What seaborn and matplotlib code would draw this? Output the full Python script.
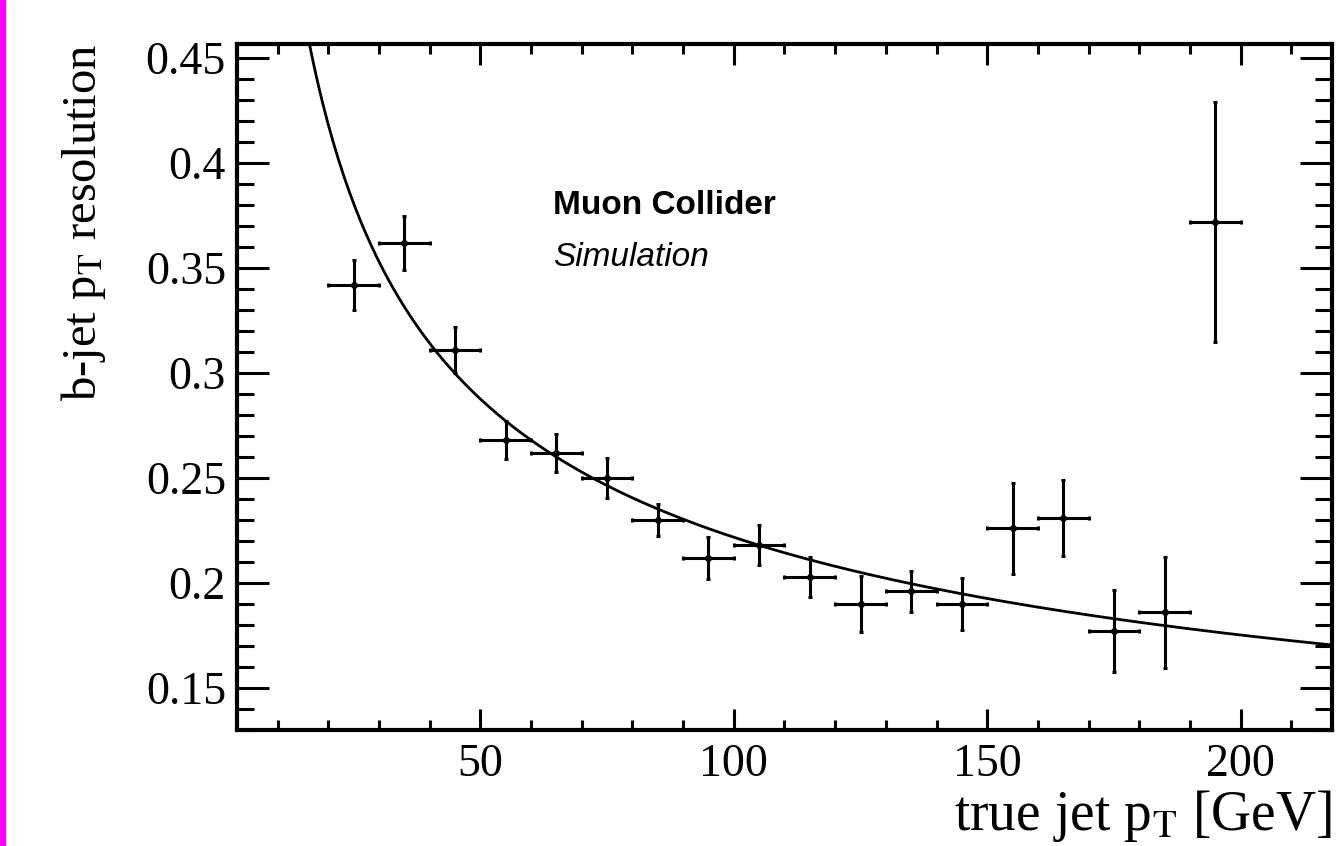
import numpy as np
import seaborn as sns
import matplotlib
matplotlib.use("Agg")
import matplotlib.pyplot as plt
from matplotlib.patches import Rectangle
from matplotlib.ticker import MultipleLocator

# bin centres, resolution and errors
pt_bins = [25, 35, 45, 55, 65, 75, 85, 95, 105, 115, 125, 135, 145, 155, 165, 175, 185, 195]
resolution = [0.342, 0.362, 0.311, 0.268, 0.262, 0.250, 0.230, 0.212, 0.218,
              0.203, 0.190, 0.196, 0.190, 0.226, 0.231, 0.177, 0.186, 0.372]
res_err = [0.012, 0.0127, 0.011, 0.009, 0.009, 0.0095, 0.0077, 0.010, 0.0094,
           0.0096, 0.0134, 0.0098, 0.0122, 0.0216, 0.018, 0.0195, 0.0266, 0.057]
bin_halfwidth = [5] * len(pt_bins)
ytick_vals = [0.15, 0.2, 0.25, 0.3, 0.35, 0.4, 0.45]
ytick_labels = ["0.15", "0.2", "0.25", "0.3", "0.35", "0.4", "0.45"]

# fit: a / sqrt(pT) + b
fit_a = 1.59
fit_b = 0.0628

sns.set_style("ticks")
plt.rcParams["font.family"] = ["Liberation Serif", "DejaVu Serif"]
plt.rcParams["mathtext.fontset"] = "stix"
for k in ["text.color", "axes.labelcolor", "xtick.color", "ytick.color", "axes.edgecolor"]:
    plt.rcParams[k] = "black"

fig = plt.figure(figsize=(13.42, 8.46), dpi=100)
ax = fig.add_axes([237 / 1342, 1 - 730 / 846, (1332 - 237) / 1342, (730 - 44) / 846])

xfit = np.linspace(2, 218, 400)
sns.lineplot(x=xfit, y=fit_a / np.sqrt(xfit) + fit_b, ax=ax, color="black", lw=2.0)

ax.errorbar(pt_bins, resolution, xerr=bin_halfwidth, yerr=res_err, fmt="o",
            color="black", ms=4, elinewidth=2.2, capsize=1.5, capthick=2.2)

ax.set_xlim(2, 218)
ax.set_ylim(0.13, 0.4567)
ax.xaxis.set_major_locator(MultipleLocator(50))
ax.xaxis.set_minor_locator(MultipleLocator(10))
ax.yaxis.set_minor_locator(MultipleLocator(0.01))
ax.set_yticks(ytick_vals)
ax.set_yticklabels(ytick_labels)

ax.tick_params(axis="both", which="both", direction="in", top=True, right=True,
               width=2.2, labelsize=33, color="black", labelcolor="black")
ax.tick_params(axis="x", which="major", length=15, pad=10)
ax.tick_params(axis="x", which="minor", length=7)
ax.tick_params(axis="y", which="major", length=23, pad=8)
ax.tick_params(axis="y", which="minor", length=12)
for s in ax.spines.values():
    s.set_linewidth(3)
    s.set_color("black")

fig.text(1332 / 1342, 1 - 830 / 846, r"true jet p$_{\mathrm{T}}$ [GeV]", fontsize=40,
         ha="right", va="baseline")
fig.text(84 / 1342, 1 - 44 / 846, r"b-jet p$_{\mathrm{T}}$ resolution", fontsize=35,
         rotation=90, ha="center", va="top")

fig.text(553 / 1342, 1 - 205 / 846, "Muon Collider", fontsize=24, fontweight="bold",
         family=["Liberation Sans", "DejaVu Sans"], ha="left", va="center")
fig.text(553 / 1342, 1 - 258 / 846, "Simulation", fontsize=24, style="italic",
         family=["Liberation Sans", "DejaVu Sans"], ha="left", va="center")

fig.patches.append(Rectangle((0, 0), 5 / 1342, 1, transform=fig.transFigure,
                             color="magenta", zorder=10))

fig.savefig("out.png", dpi=100)
